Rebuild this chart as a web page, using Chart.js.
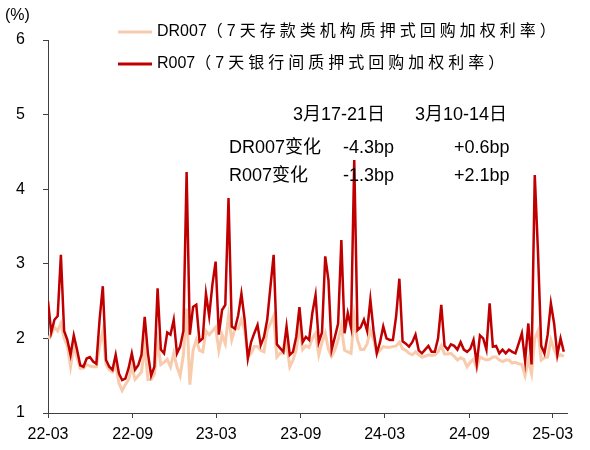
<!DOCTYPE html>
<html>
<head>
<meta charset="utf-8">
<script src="https://cdn.jsdelivr.net/npm/chart.js@4.4.1/dist/chart.umd.min.js"></script>
<style>
  html, body { margin: 0; padding: 0; background: #fff; }
  #wrap { width: 590px; height: 450px; }
</style>
</head>
<body>
<div id="wrap"><canvas id="rateChart" width="590" height="450"></canvas></div>
<script>
//-----------------------------------------------------------------------------
// data, weekly samples starting 2022-03-01
//-----------------------------------------------------------------------------
const startDate = '2022-03-01';
const tickDates  = ['2022-03-01', '2022-09-01', '2023-03-01', '2023-09-01', '2024-03-01', '2024-09-01', '2025-03-01'];
const tickLabels = ['22-03', '22-09', '23-03', '23-09', '24-03', '24-09', '25-03'];

const r007 = [
    2.50, 2.08, 2.25, 2.30, 3.12, 2.10, 1.98, 1.78, 2.04, 1.85,   // w0-9
    1.64, 1.62, 1.73, 1.75, 1.69, 1.66, 2.25, 2.70, 1.71, 1.62,   // w10-19
    1.58, 1.78, 1.53, 1.44, 1.46, 1.60, 1.80, 1.58, 1.64, 1.78,   // w20-29
    2.29, 1.80, 1.50, 1.62, 2.67, 1.85, 1.80, 2.08, 2.05, 2.25,   // w30-39
    1.80, 1.89, 2.10, 4.23, 2.05, 2.42, 2.45, 1.96, 2.00, 2.60,   // w40-49
    2.30, 2.72, 3.03, 2.05, 2.38, 2.45, 3.88, 2.16, 2.13, 2.31,   // w50-59
    2.60, 2.25, 1.73, 1.95, 2.07, 2.18, 1.91, 2.02, 2.25, 2.69,   // w60-69
    3.12, 1.92, 1.87, 1.82, 2.16, 1.78, 1.82, 2.02, 2.42, 1.95,   // w70-79
    2.02, 1.98, 2.34, 2.58, 1.95, 2.08, 3.10, 2.78, 1.85, 2.02,   // w80-89
    2.20, 3.32, 2.07, 2.34, 2.15, 4.39, 2.11, 2.15, 2.25, 2.10,   // w90-99
    2.52, 2.10, 1.80, 1.95, 2.16, 2.00, 1.98, 1.98, 2.30, 2.80,   // w100-109
    1.96, 1.93, 1.89, 1.95, 2.05, 1.84, 1.80, 1.85, 1.90, 1.82,   // w110-119
    1.82, 2.00, 2.45, 1.90, 1.85, 1.92, 1.90, 1.85, 1.95, 1.85,   // w120-129
    1.82, 1.86, 1.98, 1.66, 2.04, 2.00, 1.85, 2.47, 1.89, 1.90,   // w130-139
    1.80, 1.85, 1.80, 1.85, 1.82, 1.80, 1.93, 2.07, 1.70, 2.20,   // w140-149
    1.65, 4.19, 3.16, 1.90, 1.80, 2.05, 2.47, 2.20, 1.78, 2.00,   // w150-159
    1.82                                                          // w160
];
const dr007 = [
    2.00, 2.05, 2.15, 2.10, 2.20, 2.00, 1.90, 1.62, 1.90, 1.75,
    1.60, 1.60, 1.65, 1.63, 1.62, 1.62, 1.90, 2.10, 1.65, 1.58,
    1.55, 1.65, 1.40, 1.30, 1.38, 1.45, 1.62, 1.45, 1.50, 1.55,
    1.90, 1.45, 1.45, 1.52, 1.95, 1.65, 1.68, 1.72, 1.62, 1.80,
    1.62, 1.50, 1.78, 2.40, 1.38, 1.84, 1.98, 1.84, 1.82, 2.10,
    2.05, 2.10, 2.15, 1.84, 2.05, 1.93, 2.30, 1.98, 2.13, 2.13,
    2.25, 2.11, 1.75, 1.80, 1.89, 1.89, 1.84, 1.82, 2.11, 2.20,
    2.30, 1.75, 1.80, 1.80, 1.93, 1.62, 1.71, 1.85, 2.16, 1.85,
    1.90, 1.88, 2.00, 2.07, 1.78, 1.95, 2.07, 1.85, 1.76, 1.85,
    1.98, 2.16, 1.84, 1.82, 1.80, 2.30, 1.98, 1.85, 1.85, 1.93,
    2.11, 1.98, 1.80, 1.84, 1.89, 1.88, 1.88, 1.89, 1.90, 1.95,
    1.86, 1.84, 1.80, 1.78, 1.82, 1.78, 1.75, 1.76, 1.78, 1.77,
    1.78, 1.82, 1.90, 1.79, 1.79, 1.80, 1.76, 1.71, 1.74, 1.72,
    1.62, 1.68, 1.72, 1.60, 1.75, 1.73, 1.71, 1.72, 1.75, 1.75,
    1.71, 1.69, 1.71, 1.71, 1.67, 1.68, 1.66, 1.65, 1.50, 1.71,
    1.53, 2.00, 2.10, 1.71, 1.74, 1.75, 1.98, 1.85, 1.75, 1.78,
    1.76
];

const seriesNames = ['DR007', 'R007'];
const seriesNotes = ['（7天存款类机构质押式回购加权利率）', '（7天银行间质押式回购加权利率）'];
const seriesColors = ['#F8CBAD', '#C00000'];

const tableCols   = ['3月17-21日', '3月10-14日'];
const tableRows   = ['DR007变化', 'R007变化'];
const tableValues = [['-4.3bp', '+0.6bp'], ['-1.3bp', '+2.1bp']];

//-----------------------------------------------------------------------------
const DAY = 24 * 3600 * 1000;
function weeksFromStart(d){
    return (new Date(d) - new Date(startDate)) / DAY / 7;
}
const tickWeeks = tickDates.map(weeksFromStart);
const FONT = "'Liberation Sans', Arial, 'Noto Sans CJK SC', sans-serif";

function toPoints(values){
    return values.map((v, i) => ({ x: i, y: v }));
}

function putText(ctx, str, x, y, size, spacing){
    ctx.font = `${size}px ${FONT}`;
    ctx.letterSpacing = (spacing || 0) + 'px';
    ctx.fillText(str, x, y);
    const w = ctx.measureText(str).width;
    ctx.letterSpacing = '0px';
    return w;
}

// legend, unit label and the small change table
const textPlugin = {
    id: 'textPlugin',
    afterDraw(chart){
        const ctx = chart.ctx;
        ctx.save();
        ctx.fillStyle = '#000';
        ctx.textAlign = 'left';
        ctx.textBaseline = 'middle';

        putText(ctx, '(%)', 5, 16, 16);

        const legendY = [32, 64];
        for (let i = 0 ; i < seriesNames.length ; i ++){
            ctx.strokeStyle = seriesColors[i];
            ctx.lineWidth = 3;
            ctx.beginPath();
            ctx.moveTo(118, legendY[i]);
            ctx.lineTo(152, legendY[i]);
            ctx.stroke();
            const w = putText(ctx, seriesNames[i], 157, legendY[i], 16);
            putText(ctx, seriesNotes[i], 157 + w, legendY[i], 16, 4);
        }

        const colX = [293, 415];
        const valX = [343, 454];
        const rowY = [148, 176];
        for (let c = 0 ; c < tableCols.length ; c ++){
            putText(ctx, tableCols[c], colX[c], 115, 18);
        }
        for (let r = 0 ; r < tableRows.length ; r ++){
            putText(ctx, tableRows[r], 229, rowY[r], 18);
            for (let c = 0 ; c < tableValues[r].length ; c ++){
                putText(ctx, tableValues[r][c], valX[c], rowY[r], 18);
            }
        }
        ctx.restore();
    }
};

//-----------------------------------------------------------------------------
const rateChart = new Chart(document.getElementById('rateChart'), {
    type: 'line',
    data: {
        datasets: [
            {
                label: seriesNames[0],
                data: toPoints(dr007),
                borderColor: seriesColors[0],
                borderWidth: 3,
                pointRadius: 0,
                tension: 0,
                order: 1
            },
            {
                label: seriesNames[1],
                data: toPoints(r007),
                borderColor: seriesColors[1],
                borderWidth: 2.5,
                pointRadius: 0,
                tension: 0,
                order: 0
            }
        ]
    },
    options: {
        responsive: false,
        animation: false,
        layout: {
            padding: { top: 40, right: 23, left: 0, bottom: 0 }
        },
        plugins: {
            legend: { display: false },
            tooltip: { enabled: false }
        },
        scales: {
            x: {
                type: 'linear',
                min: 0,
                max: 161,
                afterBuildTicks: (scale) => {
                    scale.ticks = tickWeeks.map(v => ({ value: v }));
                },
                afterFit: (scale) => { scale.height = 37; },
                ticks: {
                    autoSkip: false,
                    maxRotation: 0,
                    color: '#000',
                    padding: 7,
                    font: { size: 16, family: FONT },
                    callback: (value, idx) => tickLabels[idx]
                },
                grid: {
                    drawOnChartArea: false,
                    drawTicks: true,
                    tickLength: 5,
                    color: '#404040'
                },
                border: { color: '#404040', width: 1 }
            },
            y: {
                min: 1,
                max: 6,
                afterFit: (scale) => { scale.width = 48; },
                ticks: {
                    stepSize: 1,
                    color: '#000',
                    padding: 18,
                    font: { size: 16, family: FONT }
                },
                grid: {
                    drawOnChartArea: false,
                    drawTicks: true,
                    tickLength: 5,
                    color: '#404040'
                },
                border: { color: '#404040', width: 1 }
            }
        }
    },
    plugins: [textPlugin]
});
</script>
</body>
</html>
